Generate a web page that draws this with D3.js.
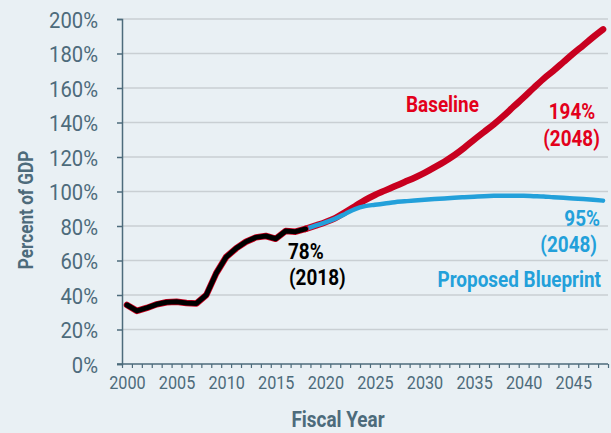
<!DOCTYPE html>
<html lang="en"><head><meta charset="utf-8">
<title>Debt chart</title>
<script src="https://cdn.jsdelivr.net/npm/d3@7"></script>
<style>
  body { margin: 0; background: #e9f0f4; }
  svg { display: block; }
  text { font-family: "Roboto", "Liberation Sans", sans-serif; }
</style>
</head>
<body>
<script>
// values (percent of GDP)
var histYears = d3.range(2000, 2019);
var histValues = [34.2, 30.8, 32.5, 34.6, 35.8, 36.1, 35.4, 35.1, 40, 52.6, 62, 67, 70.9, 73.4, 74.2, 72.6, 77.1, 76.7, 78.3];

var projYears = d3.range(2018, 2049);
var baselineValues = [78.3, 80.2, 82.2, 84.6, 88, 91.5, 95, 98, 100.5, 103, 105.5, 108, 110.8, 114, 117.3, 121,
  125.3, 130, 134.5, 139, 144, 149.3, 154.5, 160, 165.3, 170, 175, 180, 184.7, 189.5, 194];
var blueprintValues = [78.3, 80.2, 82.1, 84.3, 87, 89.8, 91.5, 92.3, 93, 93.8, 94.3, 94.8, 95.2, 95.6, 96, 96.4,
  96.7, 97, 97.3, 97.5, 97.6, 97.6, 97.5, 97.3, 97.1, 96.7, 96.4, 96, 95.6, 95.2, 94.7];

var yTicks = [0, 20, 40, 60, 80, 100, 120, 140, 160, 180, 200];
var xLabelYears = [2000, 2005, 2010, 2015, 2020, 2025, 2030, 2035, 2040, 2045];

var width = 611, height = 433;
var slate = "#4d6b7b";
var narrow = 0.86;   // the original type is a condensed face

var svg = d3.select("body").append("svg")
    .attr("width", width)
    .attr("height", height);

var x = d3.scaleLinear().domain([2000, 2049]).range([122, 608]);
var y = d3.scaleLinear().domain([0, 200]).range([364, 19]);

// gridlines
svg.append("g")
    .selectAll("line")
    .data(yTicks.filter(function(d){ return d > 0; }))
    .enter().append("line")
    .attr("x1", 122).attr("x2", 608)
    .attr("y1", function(d){ return y(d); })
    .attr("y2", function(d){ return y(d); })
    .attr("stroke", "#c9cfd3")
    .attr("stroke-width", 1.5);

// y axis
var yAxis = svg.append("g")
    .attr("transform", "translate(122,0)")
    .call(d3.axisLeft(y).tickValues(yTicks).tickSize(5)
        .tickFormat(function(d){ return d + "%"; }));
yAxis.select(".domain").attr("stroke", slate).attr("stroke-width", 1.5);
yAxis.selectAll(".tick line").attr("stroke", slate).attr("stroke-width", 1.5);
yAxis.selectAll(".tick text")
    .attr("fill", slate)
    .attr("font-size", 22)
    .attr("x", 0)
    .attr("transform", "translate(-24,0) scale(0.92,1)")
    .attr("dy", "0.38em");

// x axis: a tick per year, labels centered in the year
var xAxis = svg.append("g")
    .attr("transform", "translate(0,364)")
    .call(d3.axisBottom(x).tickValues(d3.range(2000, 2050)).tickSize(4).tickFormat(""));
xAxis.select(".domain").remove();
xAxis.selectAll(".tick line").attr("stroke", slate).attr("stroke-width", 1.2);
svg.append("line")
    .attr("x1", 117).attr("x2", 608)
    .attr("y1", 364).attr("y2", 364)
    .attr("stroke", slate).attr("stroke-width", 1.5);

var xLabels = svg.append("g")
    .attr("transform", "translate(0,364)")
    .call(d3.axisBottom(x).tickValues(xLabelYears.map(function(d){ return d + 0.5; }))
        .tickSize(0).tickFormat(function(d){ return Math.floor(d); }));
xLabels.select(".domain").remove();
xLabels.selectAll(".tick text")
    .attr("fill", slate)
    .attr("font-size", 18)
    .attr("y", 0)
    .attr("dy", 0)
    .attr("transform", "translate(0,25) scale(0.9,1)");

// lines
var line = d3.line()
    .x(function(d){ return x(d[0] + 0.5); })
    .y(function(d){ return y(d[1]); });

var baseline = d3.zip(projYears, baselineValues);
var blueprint = d3.zip(projYears, blueprintValues);
var hist = d3.zip(histYears, histValues);

svg.append("path").datum(baseline)
    .attr("d", line.curve(d3.curveMonotoneX)).attr("fill", "none")
    .attr("stroke", "#c8001f").attr("stroke-width", 6.5)
    .attr("stroke-linecap", "round");
svg.append("path").datum(blueprint)
    .attr("d", line.curve(d3.curveMonotoneX)).attr("fill", "none")
    .attr("stroke", "#23a0da").attr("stroke-width", 4.5)
    .attr("stroke-linecap", "round");
svg.append("path").datum(hist)
    .attr("d", line.curve(d3.curveLinear)).attr("fill", "none")
    .attr("stroke", "#d0001f").attr("stroke-width", 6.5)
    .attr("stroke-linecap", "round").attr("stroke-linejoin", "round");
svg.append("path").datum(hist)
    .attr("d", line.curve(d3.curveLinear)).attr("fill", "none")
    .attr("stroke", "#000").attr("stroke-width", 5)
    .attr("stroke-linecap", "round").attr("stroke-linejoin", "round");

// annotations, squeezed horizontally around their anchor
function label(txt, px, py, color, anchor, size, rot) {
  svg.append("text")
      .attr("transform", "translate(" + px + "," + py + ")" + (rot ? " rotate(" + rot + ")" : "") +
            " scale(" + narrow + ",1)")
      .attr("fill", color)
      .attr("font-size", size || 22)
      .attr("font-weight", "bold")
      .attr("text-anchor", anchor || "start")
      .text(txt);
}
label("Baseline", 406, 112, "#e3001b");
label("194%", 572, 119, "#e3001b", "middle");
label("(2048)", 571.5, 146, "#e3001b", "middle");
label("95%", 600, 226, "#23a0da", "end");
label("(2048)", 597, 252, "#23a0da", "end");
label("Proposed Blueprint", 601, 287, "#23a0da", "end");
label("78%", 288, 259, "#000");
label("(2018)", 289, 285, "#000");

// axis titles
label("Fiscal Year", 338, 427, slate, "middle", 22);
label("Percent of GDP", 33, 210, slate, "middle", 20, -90);
</script>
</body></html>
